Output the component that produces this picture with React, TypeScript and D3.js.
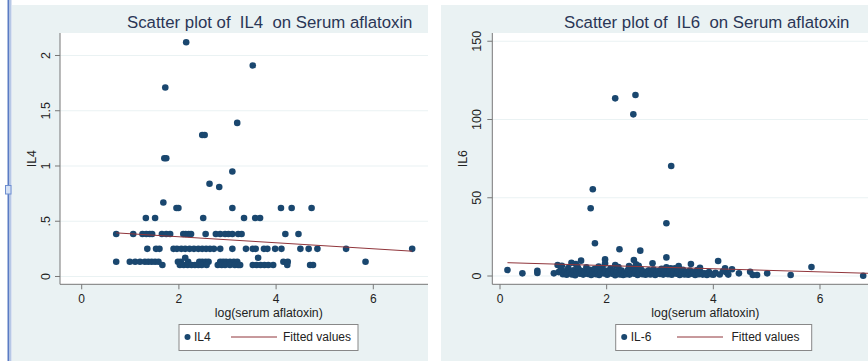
import React from 'react';
import * as d3 from 'd3';

// IL4 vs log(serum aflatoxin)
const il4Outliers: [number, number][] = [
  [2.15, 2.12], [3.52, 1.91], [1.72, 1.71], [3.2, 1.39], [2.48, 1.28], [2.53, 1.28],
  [1.7, 1.07], [1.74, 1.07], [3.1, 0.95], [2.63, 0.84], [2.83, 0.81], [1.68, 0.67],
  [2.13, 0.17], [3.63, 0.17],
];
const il4Row062 = [1.95, 1.99, 3.1, 4.1, 4.32, 4.73];
const il4Row053 = [1.32, 1.51, 2.5, 3.34, 3.57, 3.67];
const il4Row038 = [0.71, 1.06, 1.25, 1.33, 1.4, 1.45, 1.65, 1.74, 1.82, 2.09, 2.14, 2.2, 2.25, 2.55, 2.76, 2.85, 2.95, 3.02, 3.1, 3.22, 3.29, 4.19, 4.46];
const il4Row025 = [1.35, 1.53, 1.6, 1.89, 1.96, 2.05, 2.13, 2.22, 2.31, 2.4, 2.48, 2.56, 2.64, 2.72, 2.85, 3.1, 3.38, 3.52, 3.58, 3.75, 3.82, 3.98, 4.11, 4.5, 4.67, 4.85, 5.44, 6.8];
const il4Row013 = [0.71, 0.99, 1.1, 1.2, 1.3, 1.37, 1.44, 1.51, 1.58, 1.98, 2.04, 2.19, 2.42, 2.48, 2.55, 2.61, 2.85, 2.91, 2.97, 3.05, 3.13, 3.2, 4.15, 4.24, 5.84];
const il4Row010 = [1.66, 2.02, 2.1, 2.18, 2.26, 2.33, 2.4, 2.47, 2.57, 2.8, 2.88, 2.95, 3.05, 3.15, 3.22, 3.26, 3.52, 3.6, 3.68, 3.76, 3.84, 3.94, 4.23, 4.7, 4.76];
const il4Fit = { intercept: 0.414, slope: -0.0272, from: 0.71, to: 6.8 };

// IL6 vs log(serum aflatoxin)
const il6Outliers: [number, number][] = [
  [2.16, 113.5], [2.54, 115.7], [2.5, 103.3], [3.21, 70.3], [1.74, 55.4], [1.7, 43.3],
  [3.12, 33.7], [1.78, 20.9], [2.24, 17.1], [2.63, 16.2], [3.12, 11.9], [1.97, 10.6],
  [1.52, 9.8], [2.51, 10.2], [4.09, 9.6], [5.84, 5.8], [6.81, 0.2], [5.45, 0.6], [5.01, 1.7],
  [0.14, 3.8], [0.42, 1.7], [0.7, 3.3], [0.7, 1.9], [1.01, 1.7], [1.08, 7.0], [1.34, 8.5],
  [1.42, 7.7], [2.86, 8.1], [3.58, 7.7], [2.16, 7.0], [4.35, 4.3], [4.48, 1.7], [4.69, 2.7],
  [4.74, 0.6], [4.82, 0.6], [4.22, 5.0], [1.97, 8.0], [2.55, 7.5], [3.12, 5.5], [3.2, 5.0],
];
const il6Band: [number, number][] = [
  [1.1, 2.5], [1.14, 4.2], [1.18, 1.2], [1.22, 3.0], [1.25, 0.8], [1.28, 5.1], [1.31, 2.2], [1.35, 1.0],
  [1.38, 3.6], [1.41, 0.5], [1.44, 2.8], [1.47, 4.6], [1.5, 1.5], [1.53, 3.2], [1.56, 0.9], [1.59, 2.0],
  [1.62, 5.5], [1.65, 1.3], [1.68, 3.9], [1.71, 0.6], [1.74, 2.6], [1.77, 4.4], [1.8, 1.1], [1.83, 3.0],
  [1.86, 0.7], [1.89, 2.3], [1.92, 5.2], [1.95, 1.6], [1.98, 3.4], [2.01, 0.8], [2.04, 2.1], [2.07, 4.8],
  [2.1, 1.4], [2.13, 3.1], [2.16, 0.5], [2.19, 2.7], [2.22, 5.8], [2.25, 1.0], [2.28, 3.5], [2.31, 0.7],
  [2.34, 2.0], [2.37, 1.2], [2.4, 3.8], [2.43, 0.9], [2.46, 2.4], [2.49, 5.0], [2.52, 1.5], [2.55, 3.3],
  [2.58, 0.6], [2.61, 2.2], [2.64, 4.5], [2.67, 1.1], [2.7, 2.9], [2.73, 0.8], [2.76, 1.9], [2.79, 3.7],
  [2.82, 1.0], [2.85, 2.5], [2.88, 4.1], [2.91, 0.7], [2.94, 2.0], [2.97, 3.2], [3.0, 1.3], [3.03, 4.6],
  [3.06, 0.9], [3.09, 2.6], [3.15, 1.2], [3.18, 3.4], [3.22, 0.8], [3.25, 2.3], [3.28, 5.0], [3.31, 1.4],
  [3.34, 3.0], [3.37, 0.6], [3.4, 2.1], [3.43, 4.0], [3.46, 1.0], [3.5, 2.7], [3.53, 0.8], [3.56, 3.5],
  [3.6, 1.5], [3.63, 2.4], [3.66, 0.7], [3.7, 3.8], [3.73, 1.2], [3.77, 2.2], [3.8, 0.9], [3.84, 1.7],
  [3.88, 0.6], [3.92, 2.5], [3.96, 1.1], [4.0, 0.8], [4.04, 2.0], [4.12, 1.0], [4.18, 3.0], [4.25, 2.2],
  [4.28, 0.9], [1.16, 6.5], [1.45, 6.2], [1.85, 6.0], [2.42, 6.4], [2.6, 6.6], [3.35, 6.3], [3.75, 5.2],
];
const il6Fit = { intercept: 8.64, slope: -1.0, from: 0.14, to: 6.9 };

const xTicks = [0, 2, 4, 6];
const il4YTicks = [0, 0.5, 1, 1.5, 2];
const il4YLabels = ['0', '.5', '1', '1.5', '2'];
const il6YTicks = [0, 50, 100, 150];
const il6YLabels = ['0', '50', '100', '150'];

const il4Points: [number, number][] = [
  ...il4Outliers,
  ...il4Row062.map((x) => [x, 0.62] as [number, number]),
  ...il4Row053.map((x) => [x, 0.53] as [number, number]),
  ...il4Row038.map((x) => [x, 0.385] as [number, number]),
  ...il4Row025.map((x) => [x, 0.25] as [number, number]),
  ...il4Row013.map((x) => [x, 0.134] as [number, number]),
  ...il4Row010.map((x) => [x, 0.104] as [number, number]),
];
const il6Points = [...il6Outliers, ...il6Band];

const NAVY = '#1a476f';
const MAROON = '#90353b';
const BG = '#eaf2f3';
const FONT = '"Liberation Sans", Arial, Helvetica, sans-serif';

type PanelProps = {
  bgX: number; bgW: number;
  px0: number; px1: number; py0: number; py1: number;
  xDomain: [number, number]; yDomain: [number, number];
  yTicks: number[]; yLabels: string[];
  points: [number, number][];
  fit: { intercept: number; slope: number; from: number; to: number };
  title: string; titleX: number;
  yTitle: string; yTitleX: number; yTickX: number;
  legend: { x: number; w: number; name: string; lineX: number; textX: number };
};

function Panel(p: PanelProps) {
  const x = d3.scaleLinear().domain(p.xDomain).range([p.px0, p.px1]);
  const y = d3.scaleLinear().domain(p.yDomain).range([p.py1, p.py0]);
  const fitLine = d3.line<number>()
    .x((v) => x(v))
    .y((v) => y(p.fit.intercept + p.fit.slope * v));
  const ly = 337;
  return (
    <g>
      <rect x={p.bgX} y={5} width={p.bgW} height={356} fill={BG} />
      <rect x={p.px0} y={p.py0} width={p.px1 - p.px0} height={p.py1 - p.py0} fill="#fff" />
      <text x={p.titleX} y={28} fontSize={16.8} fill="#2a3656" style={{ whiteSpace: 'pre' }}>{p.title}</text>
      {/* grid */}
      {p.yTicks.map((t) => (
        <line key={'g' + t} x1={p.px0} x2={p.px1} y1={y(t)} y2={y(t)} stroke={BG} strokeWidth={1.2} />
      ))}
      {/* points */}
      {p.points.map((d, i) => (
        <circle key={i} cx={x(d[0])} cy={y(d[1])} r={3.3} fill={NAVY} />
      ))}
      <path d={fitLine([p.fit.from, p.fit.to]) || ''} stroke={MAROON} strokeWidth={1} fill="none" />
      {/* axes */}
      <line x1={p.px0} x2={p.px0} y1={p.py0} y2={p.py1} stroke="#777" />
      <line x1={p.px0} x2={p.px1} y1={p.py1} y2={p.py1} stroke="#777" />
      {p.yTicks.map((t, i) => (
        <g key={'y' + t}>
          <line x1={p.px0 - 5} x2={p.px0} y1={y(t)} y2={y(t)} stroke="#777" />
          <text transform={`translate(${p.yTickX},${y(t)}) rotate(-90)`} textAnchor="middle" fontSize={12.5} fill="#222">{p.yLabels[i]}</text>
        </g>
      ))}
      {xTicks.map((t) => (
        <g key={'x' + t}>
          <line x1={x(t)} x2={x(t)} y1={p.py1} y2={p.py1 + 5} stroke="#777" />
          <text x={x(t)} y={302.8} textAnchor="middle" fontSize={12} fill="#222">{t}</text>
        </g>
      ))}
      <text x={x(3.85)} y={316.8} textAnchor="middle" fontSize={12.3} fill="#222">log(serum aflatoxin)</text>
      <text transform={`translate(${p.yTitleX},${(p.py0 + p.py1) / 2}) rotate(-90)`} textAnchor="middle" fontSize={12.3} fill="#222">{p.yTitle}</text>
      {/* legend */}
      <rect x={p.legend.x} y={324.5} width={p.legend.w} height={26} fill="#fff" stroke="#888" />
      <circle cx={p.legend.x + 8.5} cy={ly} r={3} fill={NAVY} />
      <text x={p.legend.x + 15} y={ly + 4.3} fontSize={12} fill="#222">{p.legend.name}</text>
      <line x1={p.legend.lineX} x2={p.legend.lineX + 46} y1={ly} y2={ly} stroke={MAROON} strokeWidth={1} />
      <text x={p.legend.textX} y={ly + 4.3} fontSize={12} fill="#222">Fitted values</text>
    </g>
  );
}

export default function App() {
  return (
    <svg width={868} height={361} style={{ position: 'absolute', left: 0, top: 0, display: 'block', fontFamily: FONT }}>
      <rect width={868} height={361} fill="#fff" />
      <Panel
        bgX={12} bgW={416}
        px0={60} px1={428} py0={33} py1={284.3}
        xDomain={[-0.4465, 7.1255]} yDomain={[-0.0706, 2.2036]}
        yTicks={il4YTicks} yLabels={il4YLabels}
        points={il4Points} fit={il4Fit}
        title="Scatter plot of  IL4  on Serum aflatoxin" titleX={127}
        yTitle="IL4" yTitleX={36} yTickX={50}
        legend={{ x: 179, w: 179, name: 'IL4', lineX: 231, textX: 283 }}
      />
      <Panel
        bgX={441} bgW={427}
        px0={492.3} px1={868} py0={33} py1={284.3}
        xDomain={[-0.1444, 6.9001]} yDomain={[-5.3, 155.27]}
        yTicks={il6YTicks} yLabels={il6YLabels}
        points={il6Points} fit={il6Fit}
        title="Scatter plot of  IL6  on Serum aflatoxin" titleX={564}
        yTitle="IL6" yTitleX={467} yTickX={481}
        legend={{ x: 615.7, w: 196, name: 'IL-6', lineX: 677, textX: 731.5 }}
      />
      {/* window frame on the left */}
      <rect x={7.5} y={0} width={2} height={361} fill="#5b7cc4" />
      <rect x={9.5} y={0} width={2} height={361} fill="#b7c8e6" />
      <rect x={5.5} y={185.5} width={5.5} height={8.5} fill="#d5e1f5" stroke="#6f8fd0" />
    </svg>
  );
}
